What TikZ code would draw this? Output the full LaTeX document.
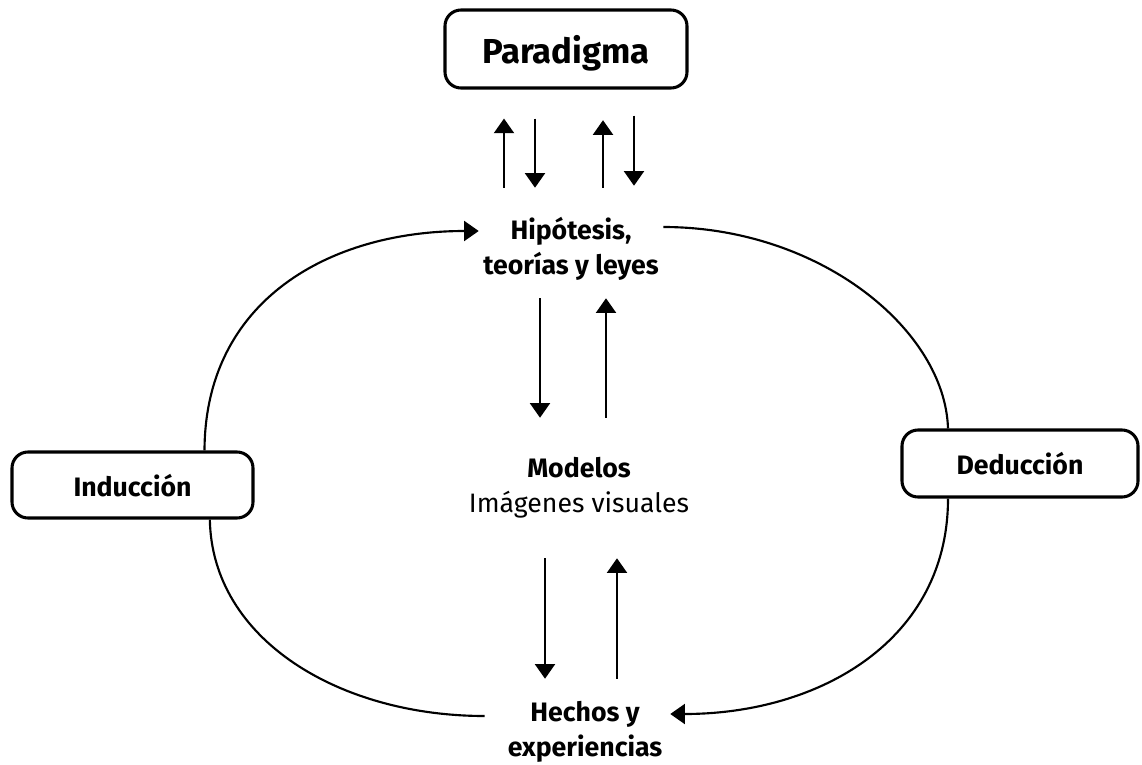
\documentclass[tikz,border=0pt]{standalone}
\usepackage{fontspec}
\setmainfont{Fira Sans}
\usetikzlibrary{arrows.meta}
\begin{document}
\begin{tikzpicture}[x=0.75pt,y=-0.75pt,
  box/.style={draw,line width=2.3pt,rounded corners=12pt,inner sep=0pt,text depth=0pt,
    font=\bfseries\fontsize{20}{24}\selectfont},
  lbl/.style={align=center,inner sep=0pt,font=\bfseries\fontsize{20}{26}\selectfont},
  flow/.style={line width=1.6pt,-{Triangle[width=15pt,length=11pt]}},
  link/.style={line width=1.6pt}]
\useasboundingbox (0,0) rectangle (1142,764);

% boxed concepts
\node[box,minimum width=181.5pt,minimum height=58.5pt,
  font=\bfseries\fontsize{26}{30}\selectfont] (par) at (566,49) {Paradigma};
\node[box,minimum width=180.75pt,minimum height=49.5pt] (ind) at (132.5,485) {Inducción};
\node[box,minimum width=177pt,minimum height=50.25pt] (ded) at (1020,463.5) {Deducción};

% levels of the cycle
\node[lbl,minimum width=138pt,minimum height=82.5pt] (hip) at (571,249)
  {Hipótesis,\\teorías y leyes};
\node[lbl,minimum width=160pt,minimum height=105pt] (mod) at (579,488)
  {Modelos\\\mdseries Imágenes visuales};
\node[lbl,minimum width=127.5pt,minimum height=82.5pt] (hech) at (585,732)
  {Hechos y\\experiencias};

% paradigm <-> hypotheses
\draw[flow,shorten <=4.5pt,shorten >=21.75pt] (hip.north -| 504,0) -- (par.south -| 504,0);
\draw[flow,shorten <=21.75pt,shorten >=4.5pt] (par.south -| 535,0) -- (hip.north -| 535,0);
\draw[flow,shorten <=4.5pt,shorten >=23pt] (hip.north -| 603,0) -- (par.south -| 603,0);
\draw[flow,shorten <=19.5pt,shorten >=6pt] (par.south -| 634,0) -- (hip.north -| 634,0);

% hypotheses <-> models <-> facts
\draw[flow,shorten <=-4.5pt] (hip.south -| 540,0) -- (mod.north -| 540,0);
\draw[flow,shorten >=-4.5pt] (mod.north -| 606,0) -- (hip.south -| 606,0);
\draw[flow,shorten >=-1.5pt] (mod.south -| 545,0) -- (hech.north -| 545,0);
\draw[flow,shorten <=-1.5pt] (hech.north -| 617,0) -- (mod.south -| 617,0);

% induction branch
\draw[link] ([xshift=-11.25pt,yshift=12pt]hech.west) .. controls (340,716) and (212,640)
  .. ([xshift=58pt]ind.south);
\draw[flow] ([xshift=54pt]ind.north) .. controls (205,300) and (330,231)
  .. ([yshift=13.5pt]hip.west);

% deduction branch
\draw[link] ([yshift=16.5pt]hip.east) .. controls (820,227) and (945,330)
  .. ([xshift=-54pt]ded.north);
\draw[flow] ([xshift=-54pt]ded.south) .. controls (948,640) and (820,714)
  .. ([yshift=13.5pt]hech.east);
\end{tikzpicture}
\end{document}
